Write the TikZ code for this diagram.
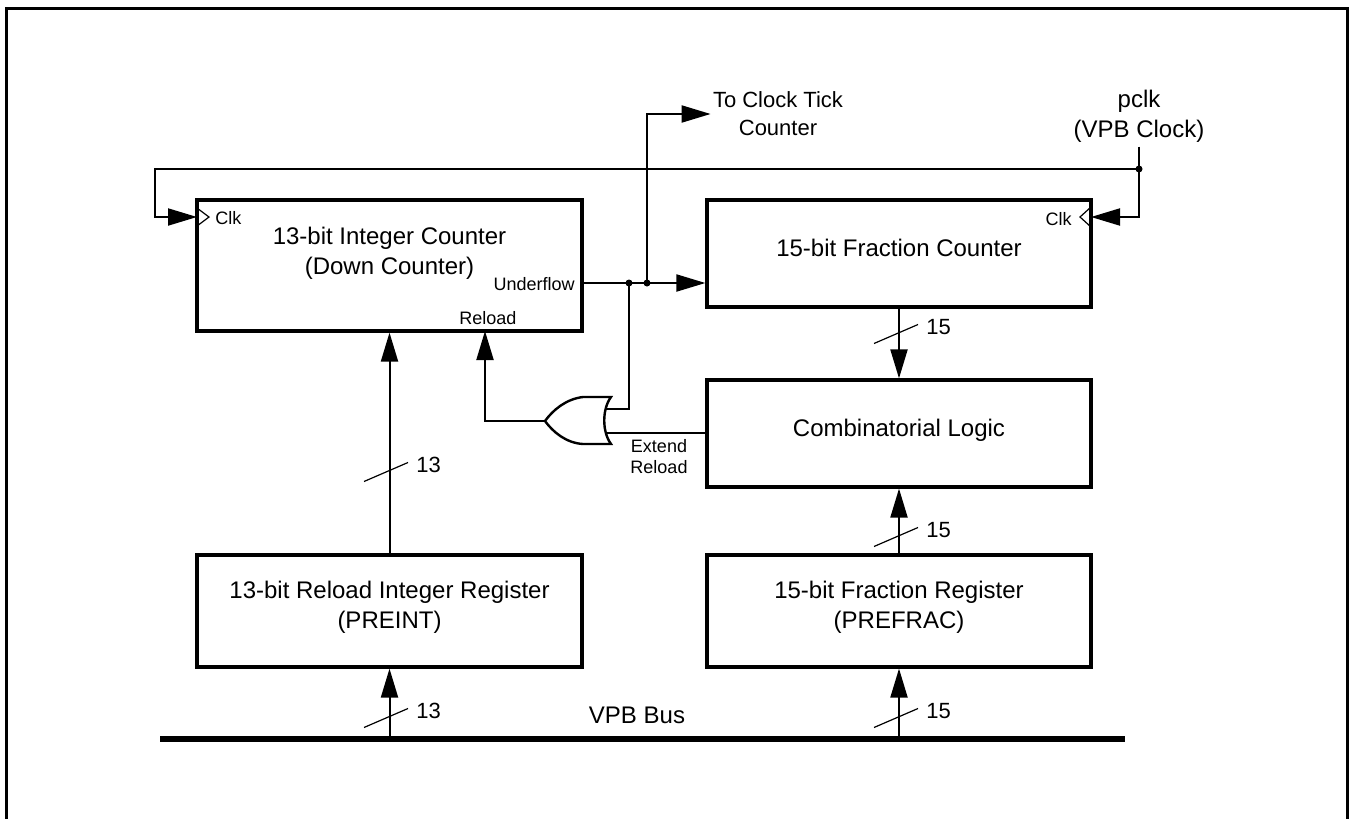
\documentclass[tikz,border=0pt]{standalone}
\usepackage{fontspec}
\setmainfont{Liberation Sans}
\usetikzlibrary{arrows.meta,fit}
\newcommand\diagmain{\fontsize{12pt}{15pt}\selectfont}
\newcommand\diagnum{\fontsize{11pt}{14pt}\selectfont}
\newcommand\diagsmall{\fontsize{9pt}{10.5pt}\selectfont}

\begin{document}
\begin{tikzpicture}[
  x=0.5pt, y=-0.5pt,
  box/.style={draw,line width=1.6pt,inner sep=0pt},
  txt/.style={align=center,font=\diagmain,inner sep=1pt},
  num/.style={font=\diagnum,inner sep=1pt},
  lbl/.style={align=center,font=\diagsmall,inner sep=1pt},
  wire/.style={line width=1pt},
  arr/.style={wire,-{Triangle[length=14.5pt,width=8.5pt]}},
  slash/.style={line width=0.6pt},
  dot/.style={circle,fill,inner sep=0pt,minimum size=3.5pt}
]
\useasboundingbox (0,0) rectangle (1350,819);
% frame
\draw[line width=1.6pt] (6.5,819) -- (6.5,8.5) -- (1347.5,8.5) -- (1347.5,819);

% blocks
\node[box,fit={(197,200) (582,331)}] (intcnt) {};
\node[box,fit={(707,200) (1091,307)}] (frccnt) {};
\node[box,fit={(707,380) (1091,487)}] (comb) {};
\node[box,fit={(197,555) (582,667)}] (intreg) {};
\node[box,fit={(707,555) (1091,667)}] (frcreg) {};
\node[txt] (intcnt-t) at (389.5,253) {13-bit Integer Counter\\(Down Counter)};
\node[font=\diagmain,inner sep=1pt] (frccnt-t) at (899,248) {15-bit Fraction Counter};
\node[font=\diagmain,inner sep=1pt] (comb-t) at (899,430) {Combinatorial Logic};
\node[txt] (intreg-t) at (389.5,607) {13-bit Reload Integer Register\\(PREINT)};
\node[txt] (frcreg-t) at (899,607) {15-bit Fraction Register\\(PREFRAC)};

% pin labels
\node[lbl,anchor=west] (clkA) at (213,218) {Clk};
\node[lbl,anchor=east] (clkB) at (1074,219) {Clk};
\node[lbl,anchor=east] (uflow) at (577,284) {Underflow};
\node[lbl] (rload) at (488,318) {Reload};
\node[lbl] (ext) at (659,457) {Extend\\Reload};
\draw[slash] (197,208) -- (209,217) -- (197,226);
\draw[slash] (1091,207) -- (1080,217) -- (1091,227);

% clock
\node[txt,inner sep=2pt] (pclk) at (1139,116) {pclk\\(VPB Clock)};
\node[dot] (ck) at (1139,169) {};
\coordinate (ckA) at (197,217);
\coordinate (ckB) at (1091,217);
\draw[arr] (pclk.south) -- (1139,217) -- (ckB);
\draw[arr] (ck.center) -- (155,169) |- (ckA);

% underflow
\coordinate (uf) at (582,283);
\node[dot] (j1) at (629,283) {};
\node[dot] (j2) at (647,283) {};
\node[txt,font=\diagnum] (tick) at (778,114) {To Clock Tick\\Counter};
\draw[arr] (uf) -- (frccnt.west |- uf);
\draw[arr] (j2.center) |- (tick.west);

% or gate
\coordinate (orout) at (545,421);
\coordinate (orin1) at (606,409);
\coordinate (orin2) at (606,433);
\coordinate (rld) at (485,331);
\draw[line width=1.2pt] (611,397) -- (583,397) .. controls (566,399) and (553,410) .. (orout)
  .. controls (553,432) and (566,443) .. (583,444) -- (611,444)
  .. controls (602,432) and (602,409) .. cycle;
\draw[wire] (j1.center) |- (orin1);
\draw[wire] (comb.west |- orin2) -- (orin2);
\draw[arr] (orout) -| (rld);

% data paths
\coordinate (busL) at (160,739);
\coordinate (busR) at (1125,739);
\draw[line width=3pt] (busL) -- (busR);
\node[txt] (vpb) at (637,715) {VPB Bus};
\draw[arr] (intreg.north) -- (intcnt.south);
\draw[arr] (frccnt.south) -- (comb.north);
\draw[arr] (frcreg.north) -- (comb.south);
\draw[arr] (intreg.south |- busL) -- (intreg.south);
\draw[arr] (frcreg.south |- busL) -- (frcreg.south);

% bus widths
\foreach \x/\y/\n [count=\i] in {389/472/13, 389/718/13, 899/334/15, 899/537/15, 899/718/15}{
  \draw[slash] (\x-25,\y+9.5) -- (\x+19,\y-9.5);
  \node[num,anchor=west] (bw\i) at (\x+25,\y-7) {\n};
}
\end{tikzpicture}
\end{document}
